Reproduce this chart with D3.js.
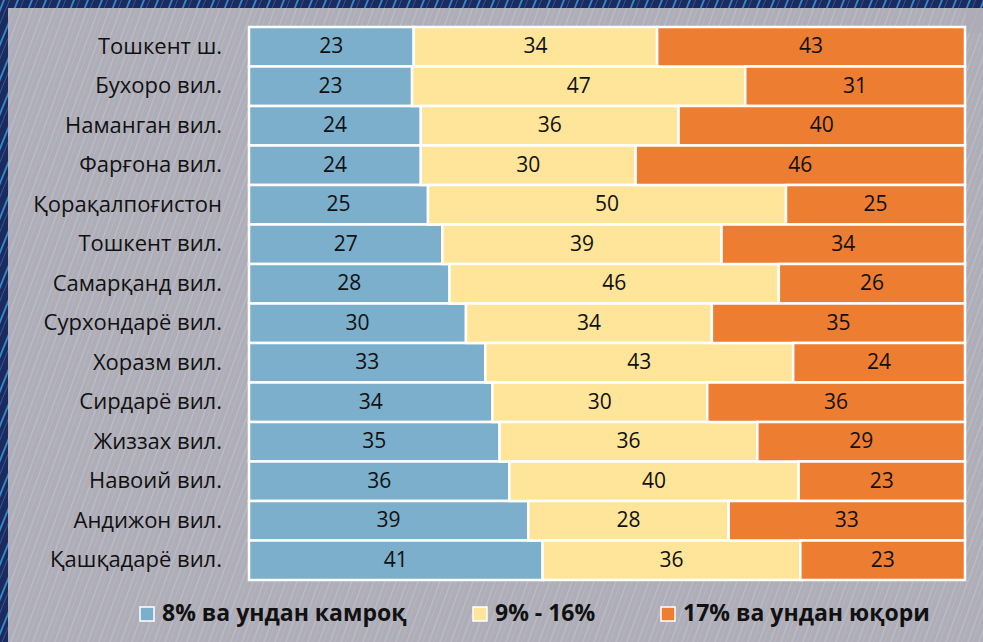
<!DOCTYPE html>
<html>
<head>
<meta charset="utf-8">
<script src="https://cdn.jsdelivr.net/npm/d3@7"></script>
<style>
  html, body { margin: 0; padding: 0; background: #1d2a5e; }
  svg { display: block; }
</style>
</head>
<body>
<svg id="chart" width="983" height="642"></svg>
<script>
const regions = [
  "Тошкент ш.", "Бухоро вил.", "Наманган вил.", "Фарғона вил.", "Қорақалпоғистон",
  "Тошкент вил.", "Самарқанд вил.", "Сурхондарё вил.", "Хоразм вил.", "Сирдарё вил.",
  "Жиззах вил.", "Навоий вил.", "Андижон вил.", "Қашқадарё вил."
];
const low = [23, 23, 24, 24, 25, 27, 28, 30, 33, 34, 35, 36, 39, 41];
const mid = [34, 47, 36, 30, 50, 39, 46, 34, 43, 30, 36, 40, 28, 36];
const high = [43, 31, 40, 46, 25, 34, 26, 35, 24, 36, 29, 23, 33, 23];
const seriesNames = ["8% ва ундан камроқ", "9% - 16%", "17% ва ундан юқори"];
const colors = ["#7bafcb", "#fee599", "#ed7d31"];

const W = 983, H = 642;
const font = "'Open Sans', 'Noto Sans', sans-serif";
const svg = d3.select("#chart");

// background: dark frame with streaks, grey panel with faint diagonals
const defs = svg.append("defs");
const frame = defs.append("pattern").attr("id", "frameStreak")
  .attr("patternUnits", "userSpaceOnUse").attr("width", 14).attr("height", 40)
  .attr("patternTransform", "skewX(-22)");
frame.append("rect").attr("width", 14).attr("height", 40).attr("fill", "#1d2a5e");
frame.append("rect").attr("x", 3).attr("width", 2).attr("height", 40).attr("fill", "#3aa0e0").attr("opacity", 0.8);
frame.append("rect").attr("x", 9).attr("width", 1).attr("height", 40).attr("fill", "#2a6fb8").attr("opacity", 0.7);

const panel = defs.append("pattern").attr("id", "panelStreak")
  .attr("patternUnits", "userSpaceOnUse").attr("width", 11).attr("height", 60)
  .attr("patternTransform", "skewX(-20)");
panel.append("rect").attr("width", 11).attr("height", 60).attr("fill", "#afaeb8");
panel.append("rect").attr("x", 2).attr("width", 1.2).attr("height", 60).attr("fill", "#c4cbd4").attr("opacity", 0.55);
panel.append("rect").attr("x", 7).attr("width", 0.8).attr("height", 60).attr("fill", "#c0c8d2").attr("opacity", 0.4);

svg.append("rect").attr("width", W).attr("height", H).attr("fill", "url(#frameStreak)");
svg.append("rect").attr("x", 8).attr("y", 8).attr("width", W - 8).attr("height", H - 8).attr("fill", "url(#panelStreak)");
svg.append("rect").attr("x", 966).attr("y", 8).attr("width", W - 966).attr("height", 25)
  .attr("fill", "#abaab4").attr("opacity", 0.6);

// plot
const margin = { left: 249, right: 18, top: 27, bottom: 62 };
const plotW = W - margin.left - margin.right;
const plotH = H - margin.top - margin.bottom;

const rows = regions.map((r, i) => ({ region: r, low: low[i], mid: mid[i], high: high[i] }));
const keys = ["low", "mid", "high"];
const stacked = d3.stack().keys(keys).offset(d3.stackOffsetExpand)(rows);

const x = d3.scaleLinear().domain([0, 1]).range([margin.left, margin.left + plotW]);
const y = d3.scaleBand().domain(regions).range([margin.top, margin.top + plotH]).padding(0);

const g = svg.append("g");
stacked.forEach((layer, k) => {
  const lg = g.append("g");
  lg.selectAll("rect").data(layer).join("rect")
    .attr("x", d => x(d[0]))
    .attr("y", d => y(d.data.region))
    .attr("width", d => x(d[1]) - x(d[0]))
    .attr("height", y.bandwidth())
    .attr("fill", colors[k])
    .attr("stroke", "#ffffff")
    .attr("stroke-width", 2.5);
  lg.selectAll("text").data(layer).join("text")
    .attr("x", d => (x(d[0]) + x(d[1])) / 2)
    .attr("y", d => y(d.data.region) + y.bandwidth() / 2 + 1)
    .attr("text-anchor", "middle")
    .attr("dominant-baseline", "middle")
    .style("font-family", font)
    .style("font-size", "21px")
    .attr("fill", "#111")
    .text(d => d.data[keys[k]]);
});

// category axis
const yAxis = svg.append("g")
  .attr("transform", `translate(${margin.left - 27},0)`)
  .call(d3.axisLeft(y).tickSize(0).tickPadding(0));
yAxis.select(".domain").remove();
yAxis.selectAll("text")
  .style("font-family", font)
  .style("font-size", "22px")
  .attr("fill", "#111");

// legend
const legendX = [140, 473, 661];
const legend = svg.append("g");
seriesNames.forEach((name, i) => {
  const lg = legend.append("g").attr("transform", `translate(${legendX[i]},607)`);
  lg.append("rect").attr("width", 14).attr("height", 14)
    .attr("fill", colors[i]).attr("stroke", "#fff").attr("stroke-width", 1.5);
  lg.append("text").attr("x", 22).attr("y", 8)
    .attr("dominant-baseline", "middle")
    .style("font-family", font)
    .style("font-size", "23px")
    .style("font-weight", "bold")
    .attr("fill", "#111")
    .text(name);
});
</script>
</body>
</html>
